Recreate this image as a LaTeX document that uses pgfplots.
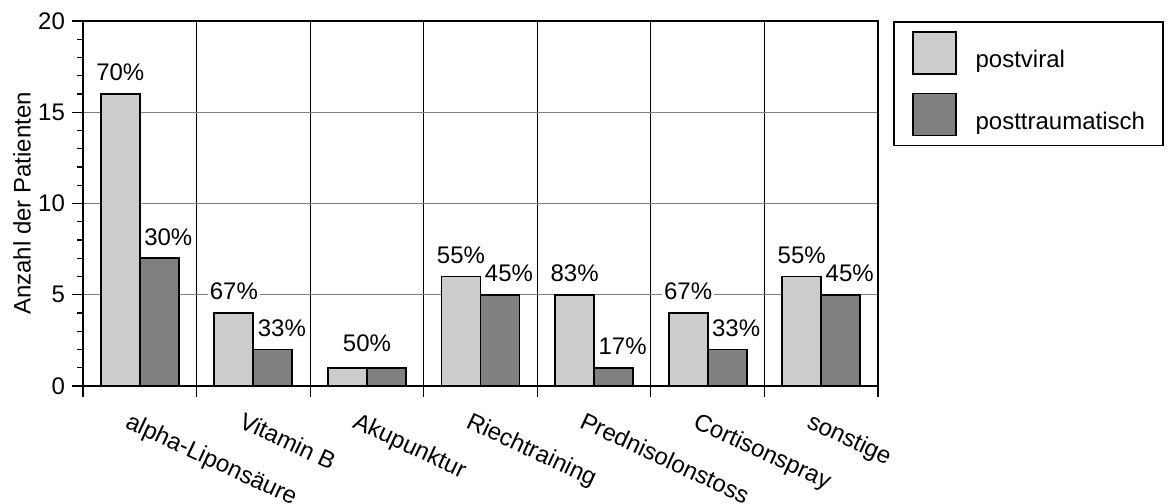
\documentclass[border=0pt]{standalone}
\usepackage{pgfplots}
\pgfplotsset{compat=1.18}
\usepackage{pgfplotstable}
\usepackage{fontspec}
\setmainfont{Liberation Sans}

\definecolor{lightbar}{HTML}{CCCCCC}
\definecolor{darkbar}{HTML}{808080}
\newcommand{\chartfont}{\fontsize{12pt}{14pt}\selectfont}

% Patient counts per therapy, with each group's share
\pgfplotstableread{
x n lab
0 16 70\%
1 4 67\%
2 1 {}
3 6 55\%
4 5 83\%
5 4 67\%
6 6 55\%
}\postviral
\pgfplotstableread{
x n lab
0 7 30\%
1 2 33\%
2 1 {}
3 5 45\%
4 1 17\%
5 2 33\%
6 5 45\%
}\posttrauma

\begin{document}
\begin{tikzpicture}[font=\chartfont]
\begin{axis}[
  name=ax,
  scale only axis,
  width=397.5pt, height=182.5pt,
  xmin=-0.5, xmax=6.5,
  ymin=0, ymax=20,
  ybar=0pt, bar width=19.5pt,
  axis line style={line width=1pt},
  tick align=outside,
  xtick pos=bottom, ytick pos=left,
  major tick length=5.5pt, minor tick length=3pt,
  every tick/.style={black, line width=0.6pt},
  xtick={-0.5,0.5,...,6.5},
  xticklabels={,,,,,,,,},
  xmajorgrids,
  major x grid style={black, line width=0.6pt},
  extra x ticks={0,1,2,3,4,5,6},
  extra x tick labels={alpha-Liponsäure,Vitamin B,Akupunktur,Riechtraining,Prednisolonstoss,Cortisonspray,sonstige},
  extra x tick style={major tick length=0pt, grid=none,
    tick label style={rotate=-25, anchor=north west, inner sep=0pt, yshift=-13pt, xshift=1.5pt}},
  ytick={0,5,10,15,20},
  minor y tick num=4,
  ymajorgrids,
  major y grid style={darkbar, line width=0.6pt},
  /pgf/number format/assume math mode=true,
  tick label style={font=\chartfont},
  ylabel={Anzahl der Patienten},
  every axis y label/.style={at={(axis description cs:-0.0767,0.5)}, rotate=90, anchor=center},
  legend style={at={(axis description cs:1,1)}, anchor=north west, xshift=7.5pt,
    draw=black, line width=0.8pt, inner xsep=9pt, inner ysep=4.5pt,
    nodes={inner sep=0pt, font=\chartfont}, row sep=9pt,
    /tikz/every odd column/.append style={column sep=9.5pt}},
  legend cell align=left,
  nodes near coords,
  point meta=explicit symbolic,
  every node near coord/.append style={font=\chartfont, fill=white, inner sep=1pt, anchor=south, yshift=5pt},
  sqlegend/.style={legend image code/.code={\draw[##1, line width=0.9pt] (0pt,-6.5pt) rectangle (21.5pt,14.5pt);}},
]
\addplot[fill=lightbar, draw=black, line width=0.9pt, sqlegend] table[x=x, y=n, meta=lab] {\postviral};
\addplot[fill=darkbar, draw=black, line width=0.9pt, sqlegend,
  every node near coord/.append style={xshift=4.5pt}] table[x=x, y=n, meta=lab] {\posttrauma};
\legend{postviral, posttraumatisch}
\node[font=\chartfont, fill=white, inner sep=1pt, anchor=south, yshift=7pt] at (axis cs:2,1) {50\%};
\end{axis}
\pgfresetboundingbox
\path[use as bounding box] ([xshift=-41.5pt, yshift=-58.5pt]ax.south west) rectangle ([xshift=149pt, yshift=10.5pt]ax.north east);
\end{tikzpicture}
\end{document}
